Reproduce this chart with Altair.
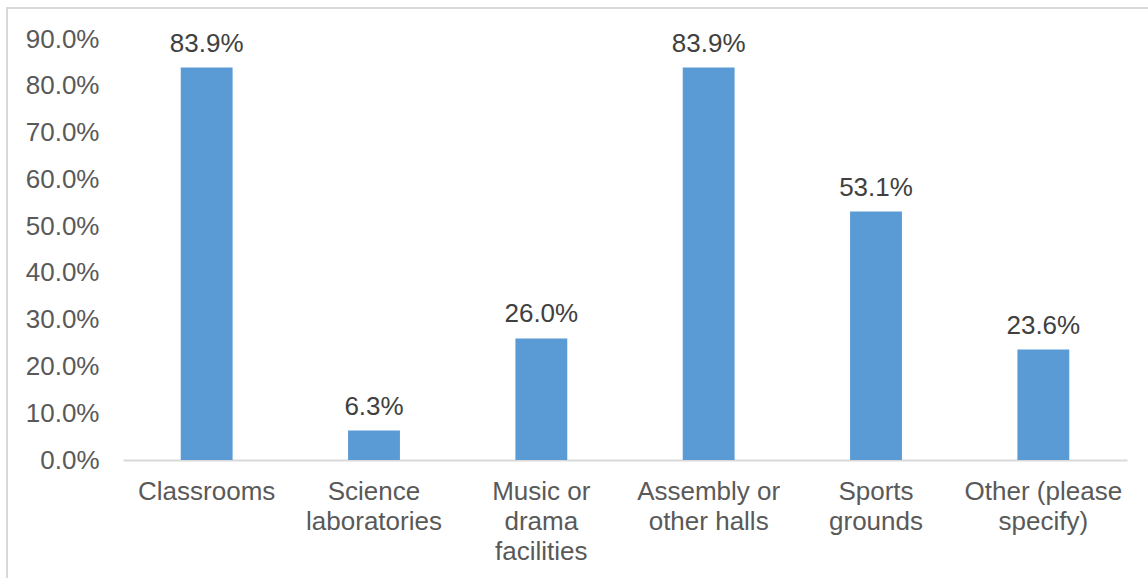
import altair as alt
import pandas as pd

categories = ["Classrooms", "Science|laboratories", "Music or|drama|facilities",
              "Assembly or|other halls", "Sports|grounds", "Other (please|specify)"]
values = [83.9, 6.3, 26.0, 83.9, 53.1, 23.6]

df = pd.DataFrame({"cat": categories, "val": values})
df["lbl"] = [f"{v:.1f}%" for v in values]

FONT = "Liberation Sans"
FS = 26

x = alt.X("cat:N", sort=categories, title=None,
          scale=alt.Scale(paddingInner=0.69, paddingOuter=0.345),
          axis=alt.Axis(labelAngle=0, labelExpr="split(datum.label, '|')",
                        labelFont=FONT, labelFontSize=FS, labelColor="#595959",
                        labelLineHeight=30, labelPadding=18, ticks=False,
                        domainColor="#d9d9d9", domainWidth=2, labelLimit=300))
y = alt.Y("val:Q", title=None,
          scale=alt.Scale(domain=[0, 90], nice=False),
          axis=alt.Axis(values=[0, 10, 20, 30, 40, 50, 60, 70, 80, 90],
                        labelExpr="format(datum.value, '.1f') + '%'",
                        labelFont=FONT, labelFontSize=FS, labelColor="#595959",
                        labelPadding=24, ticks=False, domain=False, grid=False))

bars = alt.Chart(df).mark_bar(color="#5b9bd5").encode(x=x, y=y)
text = alt.Chart(df).mark_text(font=FONT, fontSize=FS, color="#404040",
                               baseline="alphabetic", dy=-16).encode(
    x=alt.X("cat:N", sort=categories), y="val:Q", text="lbl:N")

frame = alt.Chart(df).mark_rect(fill=None, stroke="#d9d9d9", strokeWidth=2).encode(
    x=alt.value(-116), x2=alt.value(1100), y=alt.value(-31), y2=alt.value(600))

chart = alt.layer(frame, bars, text).properties(
    width=1004, height=421,
    background="white",
    autosize=alt.AutoSizeParams(type="none"),
    padding={"left": 123, "top": 39, "right": 21, "bottom": 118},
).configure_view(strokeWidth=0, stroke=None)

chart.save("out.html", embed_options={"renderer": "svg", "actions": False})
